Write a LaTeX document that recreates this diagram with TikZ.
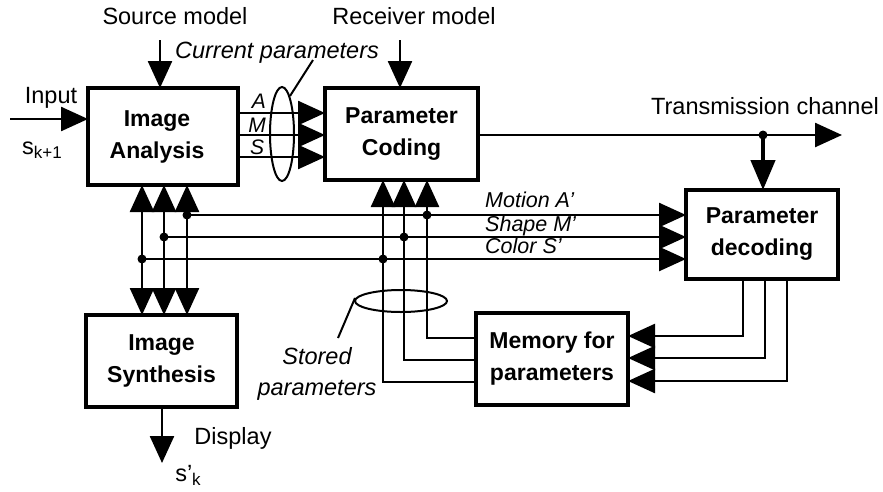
\documentclass[tikz,border=0pt]{standalone}
\usepackage{fontspec}
\setmainfont{Liberation Sans}
\usetikzlibrary{shapes,arrows.meta}
\tikzstyle{block}=[rectangle,draw=black,line width=3.5,minimum width=152,minimum height=92,align=center,font=\bfseries\fontsize{23}{32}\selectfont]
\tikzstyle{none}=[inner sep=0pt]
\tikzstyle{plaintext}=[inner sep=0pt,font=\fontsize{23.5}{28}\selectfont]
\tikzstyle{itext}=[inner sep=0pt,align=center,font=\itshape\fontsize{23.5}{31}\selectfont]
\tikzstyle{chantext}=[inner sep=0pt,anchor=base west,font=\itshape\fontsize{21.5}{26}\selectfont]
\tikzstyle{smalltext}=[inner sep=0pt,font=\itshape\fontsize{21}{24}\selectfont]
\tikzstyle{dot}=[circle,fill=black,inner sep=0pt,minimum size=9]
\tikzstyle{group}=[ellipse,draw=black,line width=2,inner sep=0pt]
\tikzstyle{wire}=[-,line width=2.5]
\tikzstyle{bigarrow}=[-{Triangle[length=27pt,width=24pt]},line width=2.5]
\tikzstyle{twoarrow}=[{Triangle[length=27pt,width=24pt]}-{Triangle[length=27pt,width=24pt]},line width=2.5]
\tikzstyle{thickarrow}=[-{Triangle[length=30pt,width=24pt]},line width=4.5]
\pgfdeclarelayer{edgelayer}
\pgfdeclarelayer{nodelayer}
\pgfsetlayers{edgelayer,nodelayer,main}
\begin{document}
\begin{tikzpicture}[x=1pt,y=-1pt]
	\useasboundingbox (0,0) rectangle (883,491);
	\begin{pgfonlayer}{nodelayer}
		\node [style=block, minimum width=150, minimum height=97] (IA) at (163,136.5) {Image\hspace*{12pt}\\Analysis\hspace*{12pt}};
		\node [style=block, minimum width=153] (PC) at (401.5,134) {Parameter\\Coding};
		\node [style=block, minimum height=89] (PD) at (762,234.5) {Parameter\\decoding};
		\node [style=block, minimum width=151] (IS) at (161.5,361) {Image\\Synthesis};
		\node [style=block] (MEM) at (552,359) {Memory for\\parameters};
		\node [style=plaintext] at (175,16) {Source model};
		\node [style=plaintext] at (414,16) {Receiver model};
		\node [style=itext] at (277,53) {Current parameters};
		\node [style=plaintext] at (51,98) {Input};
		\node [style=plaintext] at (42,150) {s\raisebox{-4pt}{\fontsize{17}{17}\selectfont k+1}};
		\node [style=smalltext] at (259,101) {A};
		\node [style=smalltext] at (257,125) {M};
		\node [style=smalltext] at (257,147) {S};
		\node [style=plaintext] at (765,106) {Transmission channel};
		\node [style=chantext] at (485,207) {Motion A'};
		\node [style=chantext] at (485,231) {Shape M'};
		\node [style=chantext] at (485,253) {Color S'};
		\node [style=itext] at (317,374) {Stored\\parameters};
		\node [style=plaintext] at (233,438) {Display};
		\node [style=plaintext] at (188,475) {s'\raisebox{-4pt}{\fontsize{17}{17}\selectfont k}};
		\node [style=group, minimum width=24, minimum height=94] (curpar) at (282,134) {};
		\node [style=group, minimum width=92, minimum height=22] (storpar) at (401,301) {};
		\node [style=none] (curtip) at (313,60) {};
		\node [style=none] (curend) at (290,96) {};
		\node [style=none] (stortip) at (338,338) {};
		\node [style=none] (storend) at (355,298) {};
		\node [style=none] (srcT) at (160,40) {};
		\node [style=none] (srcB) at (160,88) {};
		\node [style=none] (rcvT) at (400,40) {};
		\node [style=none] (rcvB) at (400,88) {};
		\node [style=none] (inL) at (10,119) {};
		\node [style=none] (inR) at (88,119) {};
		\node [style=none] (aL) at (238,113) {};
		\node [style=none] (aR) at (325,113) {};
		\node [style=none] (mL) at (238,135) {};
		\node [style=none] (mR) at (325,135) {};
		\node [style=none] (sL) at (238,157) {};
		\node [style=none] (sR) at (325,157) {};
		\node [style=none] (txL) at (478,135) {};
		\node [style=none] (txR) at (842,135) {};
		\node [style=dot] (txD) at (763,135) {};
		\node [style=none] (pdT) at (763,190) {};
		\node [style=none] (v1T) at (142,185) {};
		\node [style=none] (v1B) at (142,315) {};
		\node [style=none] (v2T) at (164,185) {};
		\node [style=none] (v2B) at (164,315) {};
		\node [style=none] (v3T) at (187,185) {};
		\node [style=none] (v3B) at (187,315) {};
		\node [style=dot] (dMotL) at (187,215) {};
		\node [style=dot] (dShaL) at (164,237) {};
		\node [style=dot] (dColL) at (142,259) {};
		\node [style=dot] (dMotR) at (427,215) {};
		\node [style=dot] (dShaR) at (404,237) {};
		\node [style=dot] (dColR) at (383,259) {};
		\node [style=none] (hMot) at (686,215) {};
		\node [style=none] (hSha) at (686,237) {};
		\node [style=none] (hCol) at (686,259) {};
		\node [style=none] (c1T) at (427,180) {};
		\node [style=none] (c1M) at (476,338) {};
		\node [style=none] (c2T) at (404,180) {};
		\node [style=none] (c2M) at (476,360) {};
		\node [style=none] (c3T) at (383,180) {};
		\node [style=none] (c3M) at (476,382) {};
		\node [style=none] (p1T) at (743,279) {};
		\node [style=none] (p1M) at (628,336) {};
		\node [style=none] (p2T) at (765,279) {};
		\node [style=none] (p2M) at (628,358) {};
		\node [style=none] (p3T) at (787,279) {};
		\node [style=none] (p3M) at (628,381) {};
		\node [style=none] (isB) at (162,407) {};
		\node [style=none] (disp) at (162,463) {};
	\end{pgfonlayer}
	\begin{pgfonlayer}{edgelayer}
		\draw [style=bigarrow] (srcT.center) to (srcB.center);
		\draw [style=bigarrow] (rcvT.center) to (rcvB.center);
		\draw [style=bigarrow] (inL.center) to (inR.center);
		\draw [style=bigarrow] (aL.center) to (aR.center);
		\draw [style=bigarrow] (mL.center) to (mR.center);
		\draw [style=bigarrow] (sL.center) to (sR.center);
		\draw [style=bigarrow] (txL.center) to (txR.center);
		\draw [style=thickarrow] (txD.center) to (pdT.center);
		\draw [style=wire, line width=2] (curtip.center) to (curend.center);
		\draw [style=wire, line width=2] (stortip.center) to (storend.center);
		\draw [style=twoarrow] (v1B.center) to (v1T.center);
		\draw [style=twoarrow] (v2B.center) to (v2T.center);
		\draw [style=twoarrow] (v3B.center) to (v3T.center);
		\draw [style=bigarrow] (dMotL.center) to (hMot.center);
		\draw [style=bigarrow] (dShaL.center) to (hSha.center);
		\draw [style=bigarrow] (dColL.center) to (hCol.center);
		\draw [style=bigarrow] (c1M.center) -| (c1T.center);
		\draw [style=bigarrow] (c2M.center) -| (c2T.center);
		\draw [style=bigarrow] (c3M.center) -| (c3T.center);
		\draw [style=bigarrow] (p1T.center) |- (p1M.center);
		\draw [style=bigarrow] (p2T.center) |- (p2M.center);
		\draw [style=bigarrow] (p3T.center) |- (p3M.center);
		\draw [style=bigarrow] (isB.center) to (disp.center);
	\end{pgfonlayer}
\end{tikzpicture}
\end{document}
